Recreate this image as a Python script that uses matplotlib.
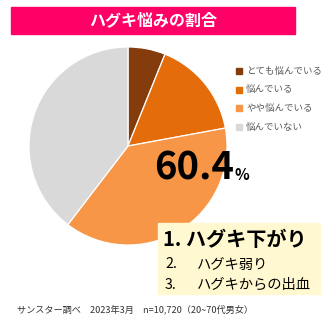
import matplotlib
matplotlib.use("Agg")
import matplotlib.pyplot as plt
from matplotlib.patches import Rectangle

plt.rcParams['font.family'] = ['Noto Sans CJK JP', 'DejaVu Sans']

# 歯ぐきの悩みの割合 (%)
labels = ["とても悩んでいる", "悩んでいる", "やや悩んでいる", "悩んでいない"]
shares = [6.1, 16.0, 38.3, 39.6]
colors = ["#843C0C", "#E46C0A", "#F79646", "#D9D9D9"]
total_worried = 60.4
ranking = ["ハグキ下がり", "ハグキ弱り", "ハグキからの出血"]

W, H = 334, 324
fig = plt.figure(figsize=(W / 100, H / 100), dpi=100)
fig.patch.set_facecolor("white")


def fx(px):
    return px / W


def fy(py):
    return 1 - py / H


# title bar
fig.patches.append(Rectangle((fx(11), fy(34)), fx(284), 27 / H,
                             transform=fig.transFigure, color="#FF0066", zorder=0))
fig.text(fx(153), fy(20.5), "ハグキ悩みの割合", color="white", fontsize=11.5,
         fontweight="bold", ha="center", va="center")

# pie
cx, cy, r = 128, 146, 100
ax = fig.add_axes([fx(cx - r), fy(cy + r), 2 * r / W, 2 * r / H])
ax.pie(shares, colors=colors, startangle=90, counterclock=False, radius=1,
       wedgeprops=dict(edgecolor="white", linewidth=0.9))
ax.set_xlim(-1.01, 1.01)
ax.set_ylim(-1.01, 1.01)
ax.set_aspect("equal")
ax.axis("off")

# legend
for i, (lab, col) in enumerate(zip(labels, colors)):
    y = 71 + i * 18.7
    fig.patches.append(Rectangle((fx(236), fy(y + 3)), 6 / W, 6 / H,
                                 transform=fig.transFigure, color=col))
    fig.text(fx(246), fy(y), lab, color="#595959", fontsize=6.8,
             ha="left", va="center")

# big percentage, with a small % sign on the same baseline
big = fig.text(fx(154), fy(180), f"{total_worried}", fontsize=27.5,
               fontweight="bold", ha="left", va="baseline", color="black")
fig.canvas.draw()
right = big.get_window_extent().x1 / fig.bbox.width
fig.text(right + 1 / W, fy(180), "%", fontsize=11, fontweight="bold",
         ha="left", va="baseline", color="black")

# ranking box
fig.patches.append(Rectangle((fx(158), fy(294)), fx(162), 71 / H,
                             transform=fig.transFigure, color="#FFF8D0", zorder=1))
fig.text(fx(163), fy(239.5), f"1. {ranking[0]}", fontsize=14.5,
         fontweight="bold", ha="left", va="center", color="black")
for i, item in enumerate(ranking[1:]):
    y = 264.5 + i * 20.5
    fig.text(fx(165), fy(y), f"{i + 2}.", fontsize=10.3, ha="left",
             va="center", color="black")
    fig.text(fx(197), fy(y), item, fontsize=10.3, ha="left",
             va="center", color="black")

# source note
fig.text(fx(17), fy(309), "サンスター調べ　2023年3月　n=10,720（20~70代男女）",
         fontsize=6.6, ha="left", va="center", color="#333333")

fig.savefig("out.png", dpi=100)
